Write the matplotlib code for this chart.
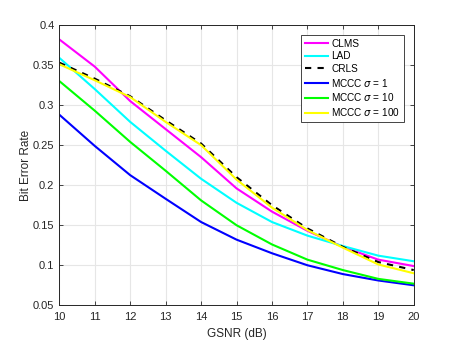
import numpy as np
import matplotlib
matplotlib.use("Agg")
import matplotlib.pyplot as plt

# Data
gsnr = [10, 11, 12, 13, 14, 15, 16, 17, 18, 19, 20]
clms = [0.382, 0.348, 0.305, 0.270, 0.235, 0.196, 0.167, 0.143, 0.123, 0.107, 0.099]
lad = [0.359, 0.320, 0.279, 0.243, 0.208, 0.178, 0.154, 0.137, 0.124, 0.112, 0.105]
crls = [0.353, 0.333, 0.311, 0.281, 0.252, 0.210, 0.175, 0.146, 0.123, 0.104, 0.094]
mccc_1 = [0.288, 0.249, 0.2125, 0.183, 0.154, 0.132, 0.115, 0.100, 0.089, 0.081, 0.075]
mccc_10 = [0.330, 0.293, 0.254, 0.218, 0.181, 0.150, 0.126, 0.107, 0.094, 0.083, 0.077]
mccc_100 = [0.351, 0.331, 0.310, 0.279, 0.250, 0.207, 0.172, 0.144, 0.122, 0.101, 0.090]

plt.rcParams["font.family"] = ["Liberation Sans", "DejaVu Sans"]

fig = plt.figure(figsize=(4.57, 3.43), dpi=100)
ax = fig.add_axes([0.1298, 0.1099, 0.7755, 0.8172])

# Plot each algorithm curve
ax.plot(gsnr, clms, color="#ff00ff", lw=1.5, label="CLMS")
ax.plot(gsnr, lad, color="#00ffff", lw=1.5, label="LAD")
ax.plot(gsnr, crls, color="black", lw=1.5, ls=(0, (3, 3)), label="CRLS")
ax.plot(gsnr, mccc_1, color="#0000ff", lw=1.5, label=r"MCCC $\sigma$ = 1")
ax.plot(gsnr, mccc_10, color="#00ff00", lw=1.5, label=r"MCCC $\sigma$ = 10")
ax.plot(gsnr, mccc_100, color="#ffff00", lw=1.5, label=r"MCCC $\sigma$ = 100")

# MATLAB-like axes styling
ax.set_xlim(10, 20)
ax.set_ylim(0.05, 0.4)
ax.set_xticks(np.arange(10, 21, 1))
ax.set_yticks([0.05, 0.1, 0.15, 0.2, 0.25, 0.3, 0.35, 0.4])
ax.set_yticklabels(["0.05", "0.1", "0.15", "0.2", "0.25", "0.3", "0.35", "0.4"])
ax.grid(True, color="#e6e6e6", lw=0.8)
ax.set_axisbelow(True)
ax.tick_params(direction="in", top=True, right=True, labelsize=8, colors="#262626",
               length=3, width=0.6)
ax.tick_params(axis="x", pad=5)
for sp in ax.spines.values():
    sp.set_color("#262626")
    sp.set_linewidth(0.7)

ax.set_xlabel("GSNR (dB)", fontsize=8.5, color="#262626", labelpad=4)
ax.set_ylabel("Bit Error Rate", fontsize=8.5, color="#262626", labelpad=1)

leg = ax.legend(loc="upper right", fontsize=7.2, handlelength=2.3, handletextpad=0.35,
                borderpad=0.35, labelspacing=0.27, fancybox=False, framealpha=1,
                borderaxespad=1.0)
leg.get_frame().set_edgecolor("#262626")
leg.get_frame().set_linewidth(0.6)

fig.savefig("out.png", dpi=100)
